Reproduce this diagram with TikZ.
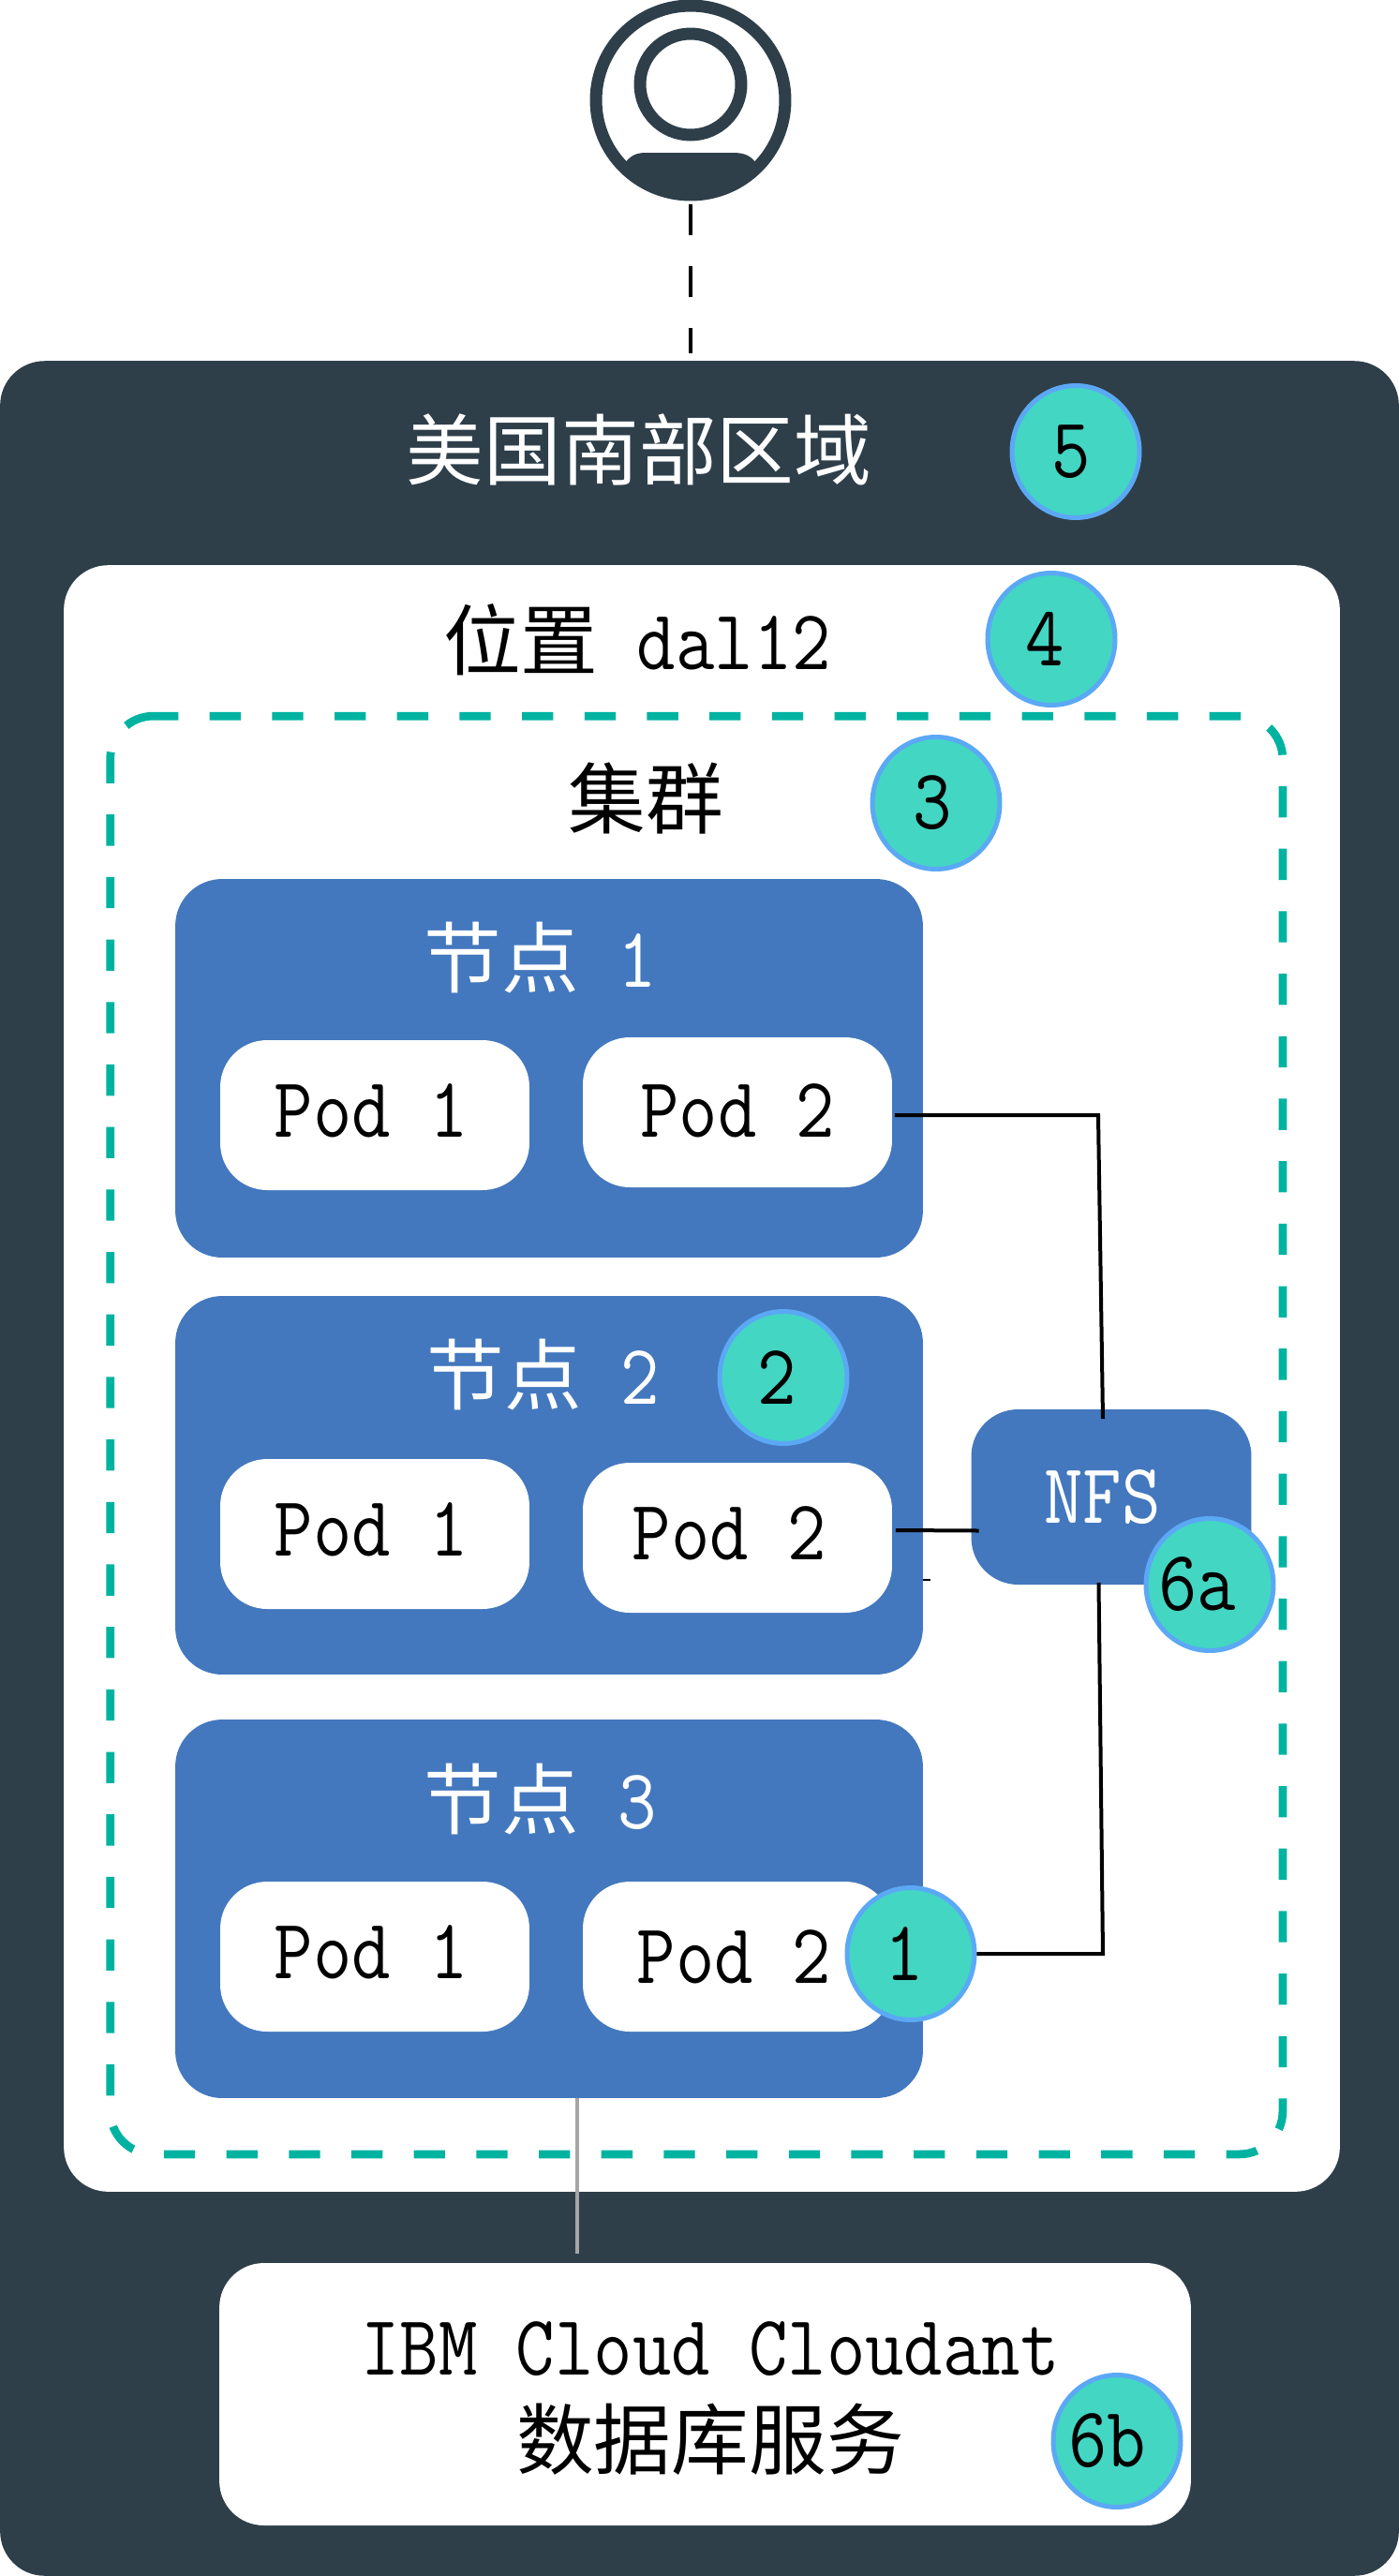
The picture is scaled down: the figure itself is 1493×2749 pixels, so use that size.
\documentclass[tikz,border=0pt]{standalone}
\usepackage{fontspec}
\usetikzlibrary{shapes.geometric}
\setmonofont[FakeStretch=0.88]{Latin Modern Mono}
\newfontfamily\cjk[Scale=0.905]{Noto Sans CJK SC}
\definecolor{regionColor}{HTML}{2E3F4A}
\definecolor{nodeColor}{HTML}{4378BE}
\definecolor{badgeColor}{HTML}{43D6C3}
\definecolor{badgeEdge}{HTML}{5BA8F5}
\definecolor{dashColor}{HTML}{00B3A1}
\tikzset{
    big/.style={font=\ttfamily\fontsize{52}{60}\selectfont, inner sep=0pt},
    box/.style={big, rounded corners=10mm, outer sep=0pt},
    nodebox/.style={box, fill=nodeColor, minimum width=159.6mm, minimum height=80.8mm},
    podbox/.style={box, fill=white, text depth=6pt, minimum width=66mm, minimum height=32mm},
    badge/.style={big, ellipse, draw=badgeEdge, fill=badgeColor, line width=1mm,
        minimum width=27.2mm, minimum height=28.2mm},
    wire/.style={draw=black, line width=0.8mm},
}
\begin{document}
\begin{tikzpicture}[x=0.02cm, y=-0.02cm]
    \useasboundingbox (0,0) rectangle (1493,2749);
    % user icon
    \node[circle, draw=regionColor, line width=2.6mm, minimum size=40.4mm, inner sep=0pt] (user) at (737,107) {};
    \node[circle, draw=regionColor, line width=2.6mm, minimum size=21.6mm, inner sep=0pt] (head) at (737,90) {};
    \begin{scope}
        \clip (737,107) circle[radius=20.2mm];
        \fill[regionColor] (664,178) .. controls (672,166) and (678,163) .. (690,163) -- (782,163)
            .. controls (795,163) and (802,166) .. (810,178) -- (810,220) -- (664,220) -- cycle;
    \end{scope}
    % boxes
    \node[box, fill=regionColor, rounded corners=9.5mm, minimum width=298.6mm, minimum height=472.8mm] (region) at (746.5,1567) {};
    \node[box, fill=white, rounded corners=9.5mm, minimum width=272.4mm, minimum height=347.2mm] (location) at (749,1471) {};
    \node[box, minimum width=250.3mm, minimum height=307mm] (cluster) at (743.3,1531.5) {};
    \draw[draw=dashColor, line width=1.75mm, dash pattern=on 6.67mm off 6.67mm, dash phase=1.34mm, rounded corners=9.2mm]
        (cluster.north west) -- (cluster.north east) -- (cluster.south east) -- (cluster.south west) -- cycle;
    \draw[wire, dash pattern=on 6.6mm off 6.6mm, line width=0.95mm, shorten <=0.8mm, shorten >=1.6mm] (user.south) -- (user.south |- region.north);
    \node[big, text=white] (regionText) at (682,480) {\cjk 美国南部区域};
    \node[big] (locationText) at (680,683) {{\cjk 位置} dal12};
    \node[big] (clusterText) at (689,852) {\cjk 集群};
    % node 1
    \node[nodebox] (n1) at (586,1140) {};
    \node[big, text=white] (n1Text) at (577,1022) {{\cjk 节点} 1};
    \node[podbox] (p11) at (400,1190) {\kern-4pt Pod 1};
    \node[podbox, text depth=2pt] (p12) at (787,1187) {Pod 2};
    % node 2
    \node[nodebox] (n2) at (586,1585) {};
    \node[big, text=white] (n2Text) at (580,1467) {{\cjk 节点} 2};
    \node[podbox] (p21) at (400,1637) {\kern-4pt Pod 1};
    \node[podbox] (p22) at (787,1641) {\kern-10pt Pod 2};
    % node 3
    \node[nodebox] (n3) at (586,2037) {};
    \node[big, text=white] (n3Text) at (577,1920) {{\cjk 节点} 3};
    \node[podbox] (p31) at (400,2088) {\kern-4pt Pod 1};
    \node[podbox, text depth=0pt] (p32) at (787,2088) {\kern-4pt Pod 2};
    % nfs and database
    \node[box, fill=nodeColor, text=white, minimum width=59.8mm, minimum height=37.4mm] (nfs) at (1186,1597.5) {\kern-11pt NFS};
    \node[box, fill=white, rounded corners=9.5mm, minimum width=207.4mm, minimum height=56mm] (db) at (752.5,2555) {};
    \node[big, font=\ttfamily\fontsize{52}{57}\selectfont, align=center] (dbText) at (758,2559.5) {IBM Cloud Cloudant\\{\cjk 数据库服务}};
    % badges
    \node[badge] (b5) at (1148,482) {\kern-6pt 5};
    \node[badge] (b4) at (1122,682) {\kern-8pt 4};
    \node[badge] (b3) at (999,857) {\kern-4pt 3};
    \node[badge] (b2) at (836,1470) {\kern-8pt 2};
    \node[badge] (b1) at (972,2085) {\kern-8pt 1};
    \node[badge] (b6a) at (1291,1691) {\kern-15pt 6a};
    \node[badge] (b6b) at (1192,2605) {\kern-12pt 6b};
    % connectors
    \coordinate (bendTop) at (1172,1190);
    \coordinate (bendLow) at (1177,2085);
    \coordinate (dbIn) at (616,2405);
    \draw[wire] ([xshift=0.6mm,yshift=-0.6mm]p12.east) -- (bendTop) -- ([xshift=-1.8mm,yshift=-2mm]nfs.north);
    \draw[wire] ([xshift=0.8mm,yshift=1.6mm]p22.east) -- ([xshift=1.6mm,yshift=-7.2mm]nfs.west);
    \draw[wire] ([xshift=-2.7mm,yshift=0.4mm]nfs.south) -- (bendLow) -- (b1.east);
    \draw[line width=0.3mm] ([yshift=-20.2mm]n2.east) -- ++(8,0);
    \draw[draw=black!35, line width=0.7mm] (dbIn |- n3.south) -- (dbIn);
\end{tikzpicture}
\end{document}
